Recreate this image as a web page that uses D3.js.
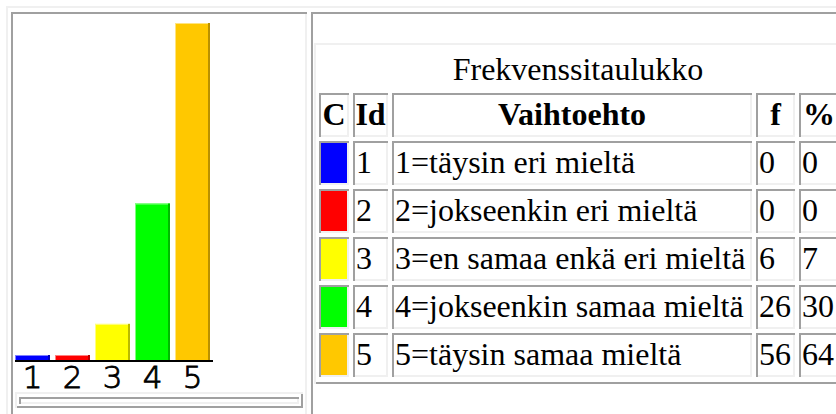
<!DOCTYPE html>
<html>
<head>
<meta charset="utf-8">
<script src="https://cdn.jsdelivr.net/npm/d3@7"></script>
<style>
body { margin: 0; padding: 0; background: #ffffff; overflow: hidden; }
svg  { display: block; }
</style>
</head>
<body>
<script>
// --- data ---
var ids      = ["1", "2", "3", "4", "5"];
var options  = ["1=täysin eri mieltä", "2=jokseenkin eri mieltä", "3=en samaa enkä eri mieltä",
                "4=jokseenkin samaa mieltä", "5=täysin samaa mieltä"];
var freq     = [0, 0, 6, 26, 56];
var percent  = [0, 0, 7, 30, 64];
var colors   = ["#0000ff", "#ff0000", "#ffff00", "#00ff00", "#ffc800"];
var headers  = ["C", "Id", "Vaihtoehto", "f", "%"];
var caption  = "Frekvenssitaulukko";

var W = 836, H = 414;
var dark  = "#a0a0a0";   // inset/outset border shades like the browser draws them
var light = "#f0f0f0";
var serif = "'Liberation Serif', 'Times New Roman', serif";

var svg = d3.select("body").append("svg")
  .attr("width", W)
  .attr("height", H)
  .attr("viewBox", "0 0 " + W + " " + H);

// draws a 3d-ish frame: top/left in one colour, bottom/right in the other
function frame(g, x, y, w, h, tl, br, t) {
  g.append("rect").attr("x", x).attr("y", y + h - t).attr("width", w).attr("height", t).attr("fill", br);
  g.append("rect").attr("x", x + w - t).attr("y", y).attr("width", t).attr("height", h).attr("fill", br);
  g.append("rect").attr("x", x).attr("y", y).attr("width", w).attr("height", t).attr("fill", tl);
  g.append("rect").attr("x", x).attr("y", y).attr("width", t).attr("height", h).attr("fill", tl);
}

// outer layout table + its two cells (they run past the bottom of the window)
var page = svg.append("g");
frame(page, 6, 6, 900, 500, light, dark, 2);
frame(page, 11, 12, 296, 480, dark, light, 2);
frame(page, 311, 12, 600, 480, dark, light, 2);

// ---------------- bar chart (left cell) ----------------
var chart = svg.append("g");

var x = d3.scaleBand()
  .domain(ids)
  .range([15, 210])
  .paddingInner(0.125)
  .paddingOuter(0);

var y = d3.scaleLinear()
  .domain([0, d3.max(freq)])
  .range([360, 23]);

var minBar = 5;   // zero answers still get a thin bar
var bars = ids.map(function (id, i) {
  return { id: id, v: freq[i], c: colors[i] };
});

var bar = chart.selectAll("g.bar")
  .data(bars)
  .enter().append("g")
  .attr("class", "bar");

function barTop(d) { return Math.min(y(d.v), y(0) - minBar); }

bar.append("rect")
  .attr("x", function (d) { return x(d.id); })
  .attr("y", barTop)
  .attr("width", x.bandwidth())
  .attr("height", function (d) { return y(0) - barTop(d); })
  .attr("fill", function (d) { return d.c; });

// light left/top edge, darker right edge
bar.append("rect")
  .attr("x", function (d) { return x(d.id); })
  .attr("y", barTop)
  .attr("width", 1)
  .attr("height", function (d) { return y(0) - barTop(d); })
  .attr("fill", function (d) { return d3.interpolateRgb(d.c, "#ffffff")(0.5); });
bar.append("rect")
  .attr("x", function (d) { return x(d.id); })
  .attr("y", barTop)
  .attr("width", x.bandwidth())
  .attr("height", 1)
  .attr("fill", function (d) { return d3.interpolateRgb(d.c, "#ffffff")(0.5); });
bar.append("rect")
  .attr("x", function (d) { return x(d.id) + x.bandwidth() - 2; })
  .attr("y", barTop)
  .attr("width", 2)
  .attr("height", function (d) { return y(0) - barTop(d); })
  .attr("fill", function (d) { return d3.color(d.c).darker(0.9); });

var axis = chart.append("g")
  .attr("transform", "translate(0," + 361 + ")")
  .call(d3.axisBottom(x).tickSize(0).tickSizeOuter(0).tickPadding(4));

axis.select(".domain")
  .attr("d", "M15,0H213")
  .attr("stroke", "#000")
  .attr("stroke-width", 2);

axis.selectAll(".tick text")
  .attr("y", 27)
  .attr("dy", 0)
  .attr("fill", "#000")
  .attr("stroke", "#000")
  .attr("stroke-width", 0.9)
  .style("font-family", "'DejaVu Sans ExtraLight', 'DejaVu Sans', sans-serif")
  .style("font-weight", "200")
  .style("font-size", "31px");

// empty bordered strip under the chart
frame(chart, 15, 392, 288, 16, light, dark, 2);
frame(chart, 19, 397, 280, 7, dark, light, 2);

// ---------------- frequency table (right cell) ----------------
var table = svg.append("g");

var colX = [319, 353, 392, 756, 799];
var colW = [30, 35, 360, 39, 40];
var rowTop = d3.scaleLinear().domain([0, 1]).range([93, 141]);
var cellH = 44;

// table outer border (outset)
frame(table, 314, 43, 560, 341, light, dark, 2);

table.append("text")
  .attr("x", 578)
  .attr("y", 80)
  .attr("text-anchor", "middle")
  .style("font-family", serif)
  .style("font-size", "32px")
  .text(caption);

// header row
headers.forEach(function (h, c) {
  frame(table, colX[c], rowTop(0), colW[c], cellH, dark, light, 2);
  table.append("text")
    .attr("x", colX[c] + colW[c] / 2)
    .attr("y", rowTop(0) + 32)
    .attr("text-anchor", "middle")
    .style("font-family", serif)
    .style("font-size", "32px")
    .style("font-weight", "bold")
    .text(h);
});

// body rows
var rows = ids.map(function (id, i) {
  return [null, id, options[i], String(freq[i]), String(percent[i])];
});

rows.forEach(function (r, i) {
  var top = rowTop(i + 1);
  r.forEach(function (val, c) {
    frame(table, colX[c], top, colW[c], cellH, dark, light, 2);
    if (c === 0) {
      table.append("rect")
        .attr("x", colX[c] + 2)
        .attr("y", top + 2)
        .attr("width", 26)
        .attr("height", cellH - 4)
        .attr("fill", colors[i]);
    } else {
      table.append("text")
        .attr("x", colX[c] + 3)
        .attr("y", top + 32)
        .style("font-family", serif)
        .style("font-size", "32px")
        .text(val);
    }
  });
});
</script>
</body>
</html>
